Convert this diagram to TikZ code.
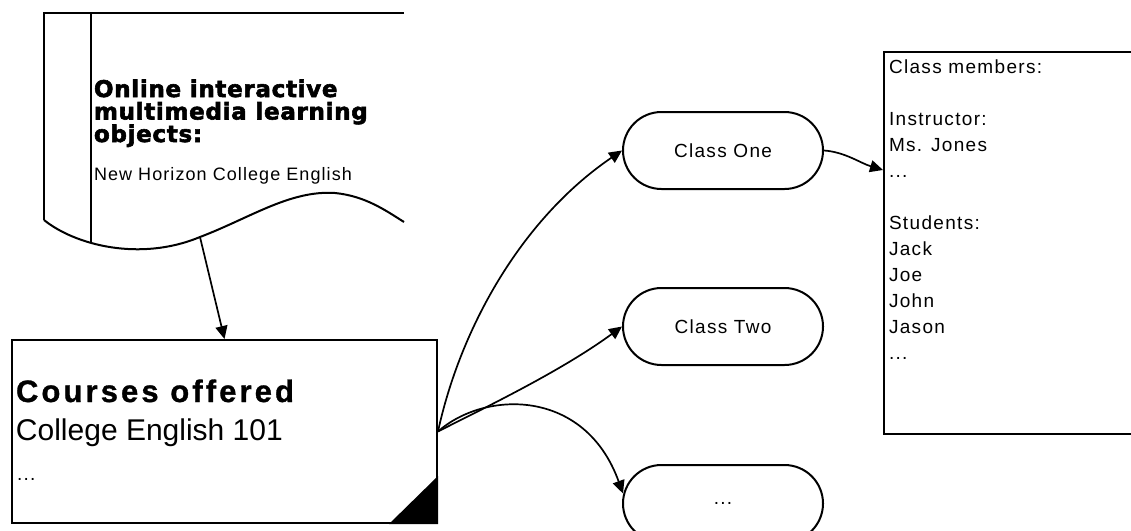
\documentclass[tikz,border=0pt]{standalone}
\usepackage{fontspec}
\setmainfont{Liberation Sans}
\newfontfamily\rfont[LetterSpace=7]{Liberation Sans}
\newfontfamily\dfont[LetterSpace=6]{Liberation Sans}
\newfontfamily\bigfont{Liberation Sans}
\newfontfamily\cbfont[LetterSpace=10,FakeBold=1]{Liberation Sans Bold}
\newfontfamily\hbfont[LetterSpace=3,FakeBold=2.5]{DejaVu Sans Bold}
\usetikzlibrary{arrows.meta,shapes.misc,calc}
\begin{document}
\begin{tikzpicture}[x=1pt,y=-1pt, line width=2pt,
  arr/.style={line width=1.7pt, -{Triangle[length=13pt,width=12pt]}},
  classbox/.style={draw, rounded rectangle, minimum width=200pt, minimum height=77pt, inner sep=0pt, font=\fontsize{19}{22}\rfont},
  txt/.style={inner sep=0pt, anchor=base west},
  heavy/.style={txt, font=\fontsize{23}{23}\hbfont},
]
\useasboundingbox (0,0) rectangle (1131,530);
\fill[white] (0,0) rectangle (1131,530);

% document shape
\draw (44,220) -- (44,13) -- (404,13);
\draw (91,13) -- (91,242.5);
\draw (44,220) .. controls (75,245) and (140,262) .. (200,237)
      .. controls (250,218) and (290,190) .. (335,193)
      .. controls (365,196) and (385,210) .. (404,222);
\coordinate (docb) at (200,237);

\node[heavy] (d1) at (93,97) {Online interactive};
\node[heavy] (d2) at (93,119.5) {multimedia learning};
\node[heavy] (d3) at (93,142) {objects:};
\node[txt, font=\fontsize{18}{20}\dfont] (d4) at (93,180) {New Horizon College English};

% courses box
\node[draw, minimum width=425pt, minimum height=183pt, inner sep=0pt] (courses) at (224.5,431.5) {};
\fill ($(courses.south east)+(-49,0)$) -- (courses.south east) -- ($(courses.south east)+(0,-48)$) -- cycle;
\node[txt, font=\fontsize{31}{32}\cbfont] (ct1) at (15,402) {Courses offered};
\node[txt, font=\fontsize{30}{32}\bigfont] (ct2) at (15,440) {College English 101};
\node[txt, font=\fontsize{19}{22}\rfont] (ct3) at (16,480) {...};

% class nodes
\node[classbox] (one) at (723,150.5) {Class One};
\node[classbox] (two) at (723,326.5) {Class Two};
\node[classbox] (more) at (723,503.5) {...};

% members box
\node[draw, anchor=north west, minimum width=260pt, minimum height=382pt, inner sep=0pt] (mem) at (883,51) {};
\node[anchor=north west, inner sep=0pt, align=left, font=\fontsize{19}{26}\rfont] (memt) at (888,59)
  {Class members:\\[26pt]Instructor:\\Ms. Jones\\...\\[26pt]Students:\\Jack\\Joe\\John\\Jason\\...};
\coordinate (memin) at (883,170);

% connectors
\draw[arr] (docb) -- (courses.north);
\draw[arr] (courses.east) .. controls (460,330) and (520,220) .. (one.west);
\draw[arr] (courses.east) .. controls (480,410) and (560,372) .. (two.west);
\draw[arr] (courses.east) .. controls (485,390) and (585,388) .. ($(more.west)+(1,-10)$);
\draw[arr] (one.east) .. controls (845,152) and (860,163) .. (memin);
\end{tikzpicture}
\end{document}
